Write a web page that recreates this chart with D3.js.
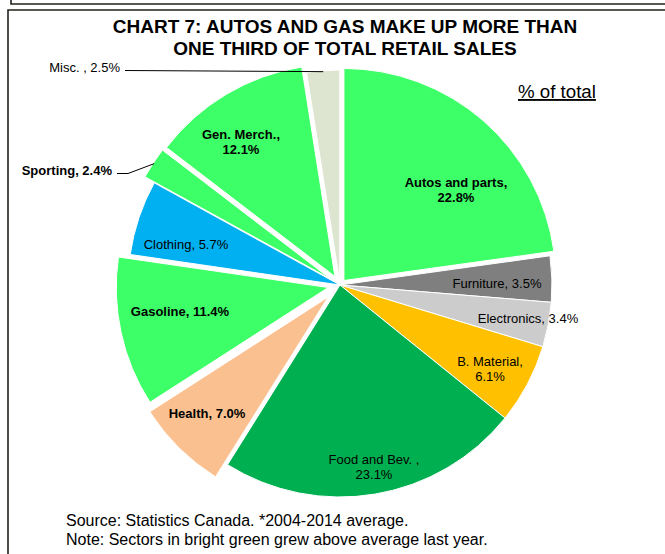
<!DOCTYPE html>
<html><head><meta charset="utf-8">
<script src="https://cdn.jsdelivr.net/npm/d3@7"></script>
<style>body{margin:0;background:#fff} svg{display:block}</style>
</head><body>
<svg id="c" width="665" height="554"></svg>
<script>
// ---- data ----
const categories = ["Autos and parts","Furniture","Electronics","B. Material","Food and Bev. ","Health","Gasoline","Clothing","Sporting","Gen. Merch.","Misc. "];
const values = [22.8, 3.5, 3.4, 6.1, 23.1, 7.0, 11.4, 5.7, 2.4, 12.1, 2.5];
const grewAboveAverage = [true, false, false, false, false, false, true, false, true, true, false];
const titleLines = ["CHART 7: AUTOS AND GAS MAKE UP MORE THAN", "ONE THIRD OF TOTAL RETAIL SALES"];
const footLines = ["Source: Statistics Canada. *2004-2014 average.", "Note: Sectors in bright green grew above average last year."];
const unitLabel = "% of total";

// ---- style ----
const colorOf = {
  "Furniture": "#7f7f7f", "Electronics": "#cccccc", "B. Material": "#ffc000",
  "Food and Bev. ": "#00b050", "Health": "#fac090", "Clothing": "#00b0f0", "Misc. ": "#dde4cf"
};
const brightGreen = "#3dff67";
const explode = {"Autos and parts": 6, "Health": 17, "Gasoline": 12, "Sporting": 11, "Gen. Merch.": 10, "Misc. ": 3};
const boldSet = new Set(["Autos and parts","Health","Gasoline","Sporting","Gen. Merch."]);
const twoLine = new Set(["Autos and parts","B. Material","Food and Bev. ","Gen. Merch."]);
// label anchors relative to pie centre (inside labels: block centre; outside: right end / baseline)
const labelRel = {
  "Autos and parts": [116, -95], "Furniture": [157, -2], "Electronics": [188, 33],
  "B. Material": [150, 84], "Food and Bev. ": [34, 182], "Health": [-133, 128],
  "Gasoline": [-160, 26], "Clothing": [-154, -41], "Gen. Merch.": [-99, -143]
};
const outsideRel = {"Sporting": [-228, -110], "Misc. ": [-220, -213]};

const W = 665, H = 554, cx = 340, cy = 285, R = 212;
const svg = d3.select("#c");
const font = "'Liberation Sans', Arial, sans-serif";

// frame
svg.append("path").attr("d", `M11,0 V4 H${W}`).attr("fill","none").attr("stroke","#1f2419").attr("stroke-width",1.6);
svg.append("path").attr("d", `M${W},10 H8 V${H}`).attr("fill","none").attr("stroke","#1f2419").attr("stroke-width",1.6);

// title
svg.append("g").selectAll("text").data(titleLines).join("text")
  .attr("x", 345).attr("y", (d,i) => 33 + i*22)
  .attr("text-anchor","middle").attr("font-family", font).attr("font-weight","bold")
  .attr("font-size", 19).attr("fill","#000").text(d => d);

// unit label
svg.append("text").attr("x", 518).attr("y", 98).attr("font-family", font)
  .attr("font-size", 18.7).attr("fill","#000").attr("text-decoration","underline").text(unitLabel);

const data = categories.map((c,i) => ({cat: c, value: values[i], green: grewAboveAverage[i]}));
const pie = d3.pie().sort(null).value(d => d.value).startAngle(0).endAngle(2*Math.PI);
const arcs = pie(data);
const arc = d3.arc().innerRadius(0).outerRadius(R);

const g = svg.append("g").attr("transform", `translate(${cx},${cy})`);
function offsetOf(a) {
  const m = (a.startAngle + a.endAngle)/2, e = explode[a.data.cat] || 0;
  return [Math.sin(m)*e, -Math.cos(m)*e];
}
g.selectAll("path.slice").data(arcs).join("path").attr("class","slice")
  .attr("d", arc)
  .attr("transform", a => { const o = offsetOf(a); return `translate(${o[0]},${o[1]})`; })
  .attr("fill", a => a.data.green ? brightGreen : colorOf[a.data.cat])
  .attr("stroke", "#fff").attr("stroke-width", 1);

const fmt = v => d3.format(".1f")(v) + "%";
// inside labels
arcs.filter(a => labelRel[a.data.cat]).forEach(a => {
  const [x, y] = labelRel[a.data.cat];
  const lines = twoLine.has(a.data.cat) ? [a.data.cat + ",", fmt(a.data.value)] : [a.data.cat + ", " + fmt(a.data.value)];
  const t = g.append("text").attr("text-anchor","middle").attr("font-family", font)
    .attr("font-size", 13).attr("font-weight", boldSet.has(a.data.cat) ? "bold" : "normal").attr("fill","#000");
  lines.forEach((ln, i) => {
    t.append("tspan").attr("x", x).attr("y", y + 4.5 + (i - (lines.length-1)/2) * 15.5).text(ln);
  });
});
// outside labels with leader lines
arcs.filter(a => outsideRel[a.data.cat]).forEach(a => {
  const [x, y] = outsideRel[a.data.cat];
  const m = (a.startAngle + a.endAngle)/2, e = explode[a.data.cat] || 0;
  const ex = Math.sin(m)*(R+e-1), ey = -Math.cos(m)*(R+e-1);
  g.append("text").attr("x", x).attr("y", y).attr("text-anchor","end").attr("font-family", font)
    .attr("font-size", 13).attr("font-weight", boldSet.has(a.data.cat) ? "bold" : "normal")
    .attr("fill","#000").text(a.data.cat + ", " + fmt(a.data.value));
  const sx = x + 5, sy = y - 1.5;
  const pts = a.data.cat === "Sporting" ? [[sx, sy], [sx + 11, sy], [ex, ey]] : [[sx, sy], [ex, ey]];
  g.append("path").attr("d", d3.line()(pts)).attr("fill","none").attr("stroke","#000").attr("stroke-width",1);
});

// footer
svg.append("g").selectAll("text").data(footLines).join("text")
  .attr("x", 66).attr("y", (d,i) => 526 + i*19)
  .attr("font-family", font).attr("font-size", 16).attr("fill","#000").text(d => d);
</script>
</body></html>
